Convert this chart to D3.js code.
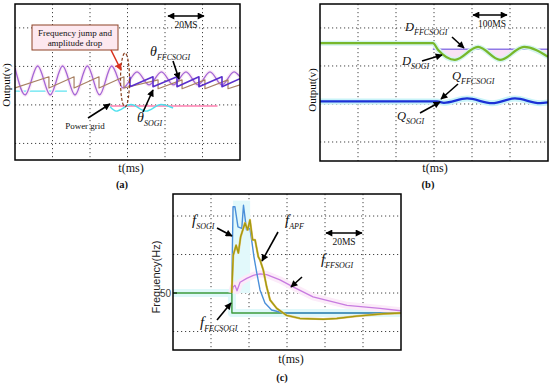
<!DOCTYPE html>
<html lang="en">
<head>
<meta charset="UTF-8">
<title>SOGI / FFCSOGI comparison</title>
<script src="https://d3js.org/d3.v7.min.js"></script>
<style>
  body { margin: 0; background: #fff; }
  svg { display: block; font-family: "Liberation Serif", "Times New Roman", serif; }
</style>
</head>
<body>
<div id="chart"></div>
<script>
// ---- panel (a): time [ms], output [scope divisions] ----
const gridWave = [[0,0.96],[5.4,0.26],[12.1,1.01],[18.8,0.26],[25.4,1.01],[32.0,0.26],[38.6,1.01],[45.1,0.26],
  [51.6,1.01],[57.6,0.44],[65.1,0.86],[71.5,0.52],[78.1,0.86],[84.5,0.52],[91.2,0.86],[97.6,0.52],
  [104.0,0.86],[110.4,0.52],[116.8,0.86],[120,0.73]];
const thetaFfc = [[0,0.44],[18.1,0.73],[18.1,0.44],[31.5,0.73],[31.5,0.44],[44.8,0.73],[44.8,0.44],
  [58.1,0.73],[58.1,0.44],[76.3,0.65],[76.3,0.42],[89.1,0.65],[89.1,0.42],[101.3,0.65],[101.3,0.42],
  [113.6,0.65],[113.6,0.42],[120,0.52]];
const thetaSogi = [[61.3,0.73],[61.3,0.47],[73.6,0.73],[73.6,0.47],[86.4,0.73],[86.4,0.47],
  [98.1,0.73],[98.1,0.47],[110.4,0.73],[110.4,0.47],[120,0.68]];
const ghostFlat = [[0,0.36],[27.7,0.36]];
const ghostWave = [[50.7,-0.05],[53.9,-0.16],[61.9,0.01],[69.9,-0.16],[77.9,0.01],[84.3,-0.08]];
const ghostPink = [[50.7,-0.03],[108,-0.03]];

// ---- panel (b): time [ms], output [scope divisions] ----
const dSogi = [[0,1.6],[297,1.6],[311,1.42],[355,1.16],[416,1.5],[474,1.16],[537,1.5],[600,1.24]];
const dFfc = [[297,1.44],[600,1.44]];
const qOut = [[0,0.066],[308,0.066],[326,0.03],[387,0.145],[453,0.02],[513,0.145],[579,0.02],[600,0.04]];

// ---- panel (c): time [ms], frequency [Hz] ----
const fSogi = [[30.9,50],[31.6,61.2],[32.6,61.2],[34.2,58.6],[36.2,58.4],[37.1,61.4],[38.7,58.2],[40.5,58.4],
  [41.6,56.5],[42.6,54.7],[44.1,52.6],[45.8,50.4],[48.4,48.7],[51.9,47.8],[58.1,47.4],[119.8,47.4]];
const fApf = [[30.9,50],[31.7,54.9],[33.2,56.2],[34.4,55.2],[35.6,57.3],[37.9,59.1],[39.3,58.2],[40.5,59.5],
  [41.9,56.9],[43.2,56.9],[44.9,54.7],[45.8,54.3],[47.5,53],[49.3,50.8],[51.1,49.1],[54.6,48],[59.8,47.1],
  [66.8,46.7],[79.1,46.6],[86.2,46.7],[96.7,47],[110.7,47.3],[119.8,47.4]];
const fFfsogi = [[30.9,50],[31.7,50.8],[32.6,51],[33.7,50.3],[35.3,51.4],[38.8,51.9],[42.3,52.3],[45.8,52.5],
  [49.3,52.4],[56.3,51.7],[63.2,50.8],[73.7,49.5],[91.6,48.4],[108.9,48],[119.8,47.7]];
const fFec = [[0,50],[31,50],[31,47.4],[120,47.4]];

const svg = d3.select("#chart").append("svg").attr("width", 550).attr("height", 384);

const defs = svg.append("defs");
[["arr", "#000"], ["arrRed", "#d8321e"]].forEach(([id, c]) => {
  defs.append("marker").attr("id", id).attr("viewBox", "0 0 10 10")
    .attr("refX", 9).attr("refY", 5).attr("markerUnits", "userSpaceOnUse")
    .attr("markerWidth", 8).attr("markerHeight", 7).attr("orient", "auto-start-reverse")
    .append("path").attr("d", "M0,0L10,5L0,10z").attr("fill", c);
});

function panel(id, xs, ys, xGrid, yGrid) {
  const g = svg.append("g");
  const [x0, x1] = xs.range(), [y1, y0] = ys.range();
  defs.append("clipPath").attr("id", id).append("rect")
    .attr("x", x0).attr("y", y0).attr("width", x1 - x0).attr("height", y1 - y0);
  g.selectAll(".gx").data(xGrid).enter().append("line")
    .attr("x1", d => xs(d)).attr("x2", d => xs(d)).attr("y1", y0).attr("y2", y1);
  g.selectAll(".gy").data(yGrid).enter().append("line")
    .attr("y1", d => ys(d)).attr("y2", d => ys(d)).attr("x1", x0).attr("x2", x1);
  g.selectAll("line").attr("stroke", "#444").attr("stroke-width", 1).attr("stroke-dasharray", "1.2,2.8");
  const plot = g.append("g").attr("clip-path", `url(#${id})`);
  const frame = () => g.append("rect").attr("x", x0).attr("y", y0).attr("width", x1 - x0)
    .attr("height", y1 - y0).attr("fill", "none").attr("stroke", "#000").attr("stroke-width", 1.5);
  return { g, plot, frame };
}

function curve(target, xs, ys, data, color, width, cv, halo) {
  const line = d3.line().x(d => xs(d[0])).y(d => ys(d[1])).curve(cv || d3.curveLinear);
  if (halo) target.append("path").attr("d", line(data)).attr("fill", "none")
    .attr("stroke", halo[0]).attr("stroke-width", halo[1]).attr("stroke-linejoin", "round");
  target.append("path").attr("d", line(data)).attr("fill", "none")
    .attr("stroke", color).attr("stroke-width", width).attr("stroke-linejoin", "round");
}

function arrow(g, x1, y1, x2, y2, opts = {}) {
  const l = g.append("line").attr("x1", x1).attr("y1", y1).attr("x2", x2).attr("y2", y2)
    .attr("stroke", opts.color || "#000").attr("stroke-width", opts.w || 1.6)
    .attr("marker-end", `url(#${opts.red ? "arrRed" : "arr"})`);
  if (opts.both) l.attr("marker-start", "url(#arr)");
}

function subLabel(g, x, y, main, sub, size, subSize) {
  const t = g.append("text").attr("x", x).attr("y", y).attr("font-style", "italic")
    .attr("font-size", size).attr("fill", "#111");
  t.append("tspan").text(main);
  t.append("tspan").attr("font-size", subSize).attr("dy", size * 0.28).text(sub);
}

function text(g, x, y, s, size, opts = {}) {
  const t = g.append("text").attr("x", x).attr("y", y).attr("font-size", size)
    .attr("text-anchor", opts.anchor || "middle").attr("fill", opts.color || "#111").text(s);
  if (opts.bold) t.attr("font-weight", "bold");
  if (opts.family) t.attr("font-family", opts.family);
  if (opts.rotate) t.attr("transform", `rotate(-90 ${x} ${y})`);
  return t;
}

// ================= (a) =================
const xa = d3.scaleLinear([0, 120], [15, 240]);
const ya = d3.scaleLinear([-1.43, 2.62], [160, 4]);
const A = panel("clipA", xa, ya, [20, 40, 60, 80, 100], [-1, 0, 1, 2]);
curve(A.plot, xa, ya, ghostFlat, "#5fe3f0", 1.2);
curve(A.plot, xa, ya, ghostPink, "#ff7fb0", 1.4);
curve(A.plot, xa, ya, ghostWave, "#4fe0ee", 1.4, d3.curveMonotoneX);
curve(A.plot, xa, ya, gridWave, "#a567d6", 1.3, d3.curveMonotoneX, ["#fcecf6", 4]);
curve(A.plot, xa, ya, thetaFfc, "#a88064", 1.2);
curve(A.plot, xa, ya, thetaSogi, "#5a2fcc", 1.6);
A.frame();

A.g.append("ellipse").attr("cx", 125).attr("cy", 80).attr("rx", 4.5).attr("ry", 27)
  .attr("fill", "none").attr("stroke", "#8a4020").attr("stroke-width", 1.2).attr("stroke-dasharray", "3,2");
A.g.append("rect").attr("x", 32).attr("y", 25).attr("width", 86).attr("height", 25)
  .attr("fill", "#fde8ef").attr("stroke", "#8e4326").attr("stroke-width", 1);
text(A.g, 75, 35.5, "Frequency jump and", 9);
text(A.g, 75, 46, "amplitude drop", 9);
arrow(A.g, 111, 50, 121, 70, { red: true, color: "#d8321e", w: 1.6 });
arrow(A.g, 168, 16, 204, 16, { both: true, w: 1.3 });
text(A.g, 186, 28, "20MS", 9.5);
subLabel(A.g, 150, 56, "θ", "FFCSOGI", 14, 8);
arrow(A.g, 173, 61, 179, 79);
subLabel(A.g, 137, 122, "θ", "SOGI", 14, 8);
arrow(A.g, 143, 112, 153, 90);
text(A.g, 85, 129, "Power grid", 9);
arrow(A.g, 88, 118, 110, 104);
text(A.g, 10, 85, "Output(v)", 11, { rotate: true });
text(A.g, 131, 172, "t(ms)", 12);
text(A.g, 122, 188, "(a)", 10.5, { bold: true });

// ================= (b) =================
const xb = d3.scaleLinear([0, 600], [320, 548]);
const yb = d3.scaleLinear([-1.5, 2.63], [161, 4]);
const B = panel("clipB", xb, yb, [100, 200, 300, 400, 500], [-1, 0, 1, 2]);
B.plot.append("path")
  .attr("d", d3.area().x(d => xb(d[0])).y0(yb(1.44)).y1(d => yb(d[1])).curve(d3.curveMonotoneX)(dSogi.slice(1)))
  .attr("fill", "#f6d6f0").attr("opacity", 0.7);
curve(B.plot, xb, yb, qOut, "#1b31d6", 2.2, d3.curveMonotoneX, ["#c8f3f8", 6]);
curve(B.plot, xb, yb, dFfc, "#8f78e6", 1.3);
curve(B.plot, xb, yb, dSogi, "#78b72b", 2.2, d3.curveMonotoneX, ["#d3f5ef", 5]);
B.frame();

arrow(B.g, 473, 15, 507, 15, { both: true, w: 1.3 });
text(B.g, 492, 27, "100MS", 9.5);
subLabel(B.g, 405, 31, "D", "FFCSOGI", 12.5, 8);
arrow(B.g, 452, 37, 464, 48);
subLabel(B.g, 402, 65, "D", "SOGI", 12.5, 8);
arrow(B.g, 422, 61, 442, 55);
subLabel(B.g, 452, 80, "Q", "FFCSOGI", 12.5, 8);
arrow(B.g, 458, 84, 441, 99);
subLabel(B.g, 397, 120, "Q", "SOGI", 12.5, 8);
arrow(B.g, 420, 113, 440, 102);
text(B.g, 316, 90, "Output(v)", 11, { rotate: true });
text(B.g, 435, 172, "t(ms)", 12);
text(B.g, 428, 188, "(b)", 10.5, { bold: true });

// ================= (c) =================
const xc = d3.scaleLinear([0, 120], [173, 401]);
const yc = d3.scaleLinear([42.6, 62.86], [350, 194]);
const C = panel("clipC", xc, yc, [20, 40, 60, 80, 100], [45, 50, 55, 60]);
C.plot.append("rect").attr("x", xc(31.6)).attr("y", yc(62)).attr("width", xc(40.6) - xc(31.6))
  .attr("height", yc(50) - yc(62)).attr("fill", "#e2f9fb");
curve(C.plot, xc, yc, fFec, "#3c9a3c", 1.4, d3.curveLinear, ["#dff8fa", 8]);
curve(C.plot, xc, yc, fFfsogi, "#c77be0", 1.3, d3.curveLinear, ["#fcebf9", 7]);
curve(C.plot, xc, yc, fSogi, "#4a8fd9", 1.4);
curve(C.plot, xc, yc, fApf, "#a29c10", 1.4, d3.curveLinear, ["#ecc070", 2.2]);
C.frame();

C.g.append("line").attr("x1", 173).attr("x2", 177).attr("y1", yc(50)).attr("y2", yc(50))
  .attr("stroke", "#000");
text(C.g, 171, yc(50) + 3.5, "50", 10, { anchor: "end", family: "Liberation Sans", color: "#444" });
text(C.g, 160, 277, "Frequency(Hz)", 11, { rotate: true, family: "Liberation Sans", color: "#222" });
subLabel(C.g, 192, 225, "f", "SOGI", 15, 8);
arrow(C.g, 217, 228, 232, 236);
subLabel(C.g, 285, 225, "f", "APF", 15, 8);
arrow(C.g, 278, 232, 262, 261);
subLabel(C.g, 321, 264, "f", "FFSOGI", 15, 8);
arrow(C.g, 302, 277, 291, 287);
subLabel(C.g, 200, 327, "f", "FECSOGI", 15, 8);
arrow(C.g, 217, 320, 231, 303);
arrow(C.g, 326, 233, 362, 233, { both: true, w: 1.3 });
text(C.g, 344, 245, "20MS", 9.5);
text(C.g, 291, 363, "t(ms)", 12);
text(C.g, 282, 381, "(c)", 10.5, { bold: true });
</script>
</body>
</html>
